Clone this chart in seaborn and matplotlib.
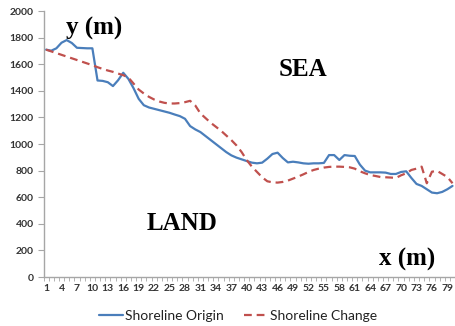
import numpy as np
import pandas as pd
import matplotlib
matplotlib.use("Agg")
import matplotlib.pyplot as plt
import seaborn as sns

# ---- data ----
x_index = list(range(1, 81))
shoreline_origin = [
    1710, 1702, 1720, 1762, 1782, 1760, 1724, 1722, 1720, 1720,
    1478, 1475, 1465, 1436, 1480, 1536, 1490, 1420, 1340, 1292,
    1275, 1265, 1255, 1245, 1235, 1222, 1210, 1190, 1135, 1110,
    1090, 1060, 1030, 1000, 970, 940, 915, 898, 885, 872,
    860, 855, 860, 890, 925, 935, 895, 862, 867, 862,
    855, 852, 855, 855, 858, 917, 917, 880, 917, 912,
    910, 845, 800, 787, 787, 787, 785, 775, 775, 790,
    795, 745, 700, 685, 660, 635, 630, 640, 660, 685,
]
shoreline_change = [
    1710, 1697, 1684, 1671, 1658, 1645, 1632, 1619, 1606, 1593,
    1578, 1565, 1553, 1543, 1530, 1518, 1500, 1455, 1410, 1380,
    1355, 1335, 1320, 1310, 1305, 1305, 1308, 1315, 1325, 1290,
    1230, 1195, 1160, 1130, 1100, 1065, 1030, 990, 940, 880,
    830, 790, 750, 720, 712, 710, 715, 725, 740, 755,
    772, 790, 805, 815, 823, 828, 830, 830, 828, 825,
    815, 795, 780, 767, 760, 752, 750, 748, 745, 765,
    780, 805, 815, 830, 705, 792, 798, 775, 752, 705,
]
series_names = ["Shoreline Origin", "Shoreline Change"]
y_ticks = [0, 200, 400, 600, 800, 1000, 1200, 1400, 1600, 1800, 2000]
x_tick_labels = list(range(1, 81, 3))

df = pd.DataFrame({
    "x": x_index * 2,
    "y": shoreline_origin + shoreline_change,
    "series": [series_names[0]] * len(x_index) + [series_names[1]] * len(x_index),
})

sns.set_theme(style="white")
plt.rcParams["font.family"] = ["Lato", "DejaVu Sans"]

fig = plt.figure(figsize=(4.56, 3.26), dpi=100)
ax = fig.add_axes([0.0954, 0.1503, 0.9026, 0.8157])

blue = "#4A7EBB"
red = "#C0504D"

sns.lineplot(data=df[df.series == series_names[0]], x="x", y="y", ax=ax,
             color=blue, linewidth=1.6, label=series_names[0])
sns.lineplot(data=df[df.series == series_names[1]], x="x", y="y", ax=ax,
             color=red, linewidth=1.6, linestyle="--", label=series_names[1])
ax.lines[1].set_dashes([3.5, 2.2])

ax.set_xlim(0.5, 80.5)
ax.set_ylim(0, 2000)
ax.set_yticks(y_ticks)
ax.set_yticklabels([str(v) for v in y_ticks])
ax.set_xticks(x_tick_labels)
ax.set_xticklabels([str(v) for v in x_tick_labels])
ax.set_xticks(np.arange(0.5, 81, 1), minor=True)
ax.set_xlabel("")
ax.set_ylabel("")

grey = "#A6A6A6"
for s in ["top", "right"]:
    ax.spines[s].set_visible(False)
for s in ["left", "bottom"]:
    ax.spines[s].set_color(grey)
    ax.spines[s].set_linewidth(1.0)

ax.tick_params(axis="y", which="major", direction="out", length=4, width=0.8,
               color=grey, left=True, labelsize=7.5, labelcolor="#333333", pad=3)
ax.tick_params(axis="x", which="major", length=0, labelsize=7.5,
               labelcolor="#333333", pad=5)
ax.tick_params(axis="x", which="minor", direction="out", length=3, width=0.6,
               color=grey, bottom=True)
for lab in ax.get_xticklabels() + ax.get_yticklabels():
    lab.set_fontweight("bold")

serif = ["Liberation Serif", "DejaVu Serif"]

def ptext(px, py, s):
    fig.text(px / 456, 1 - py / 326, s, ha="center", va="center",
             fontsize=18, fontweight="bold", family=serif, color="black")

ptext(94, 28, "y (m)")
ptext(303, 69, "SEA")
ptext(182, 224, "LAND")
ptext(407, 259, "x (m)")

ax.get_legend().remove()
handles = ax.lines[:2]
fig.legend(handles, series_names, loc="center", bbox_to_anchor=(238 / 456, 1 - 316 / 326),
           ncol=2, frameon=False, fontsize=10, handlelength=1.7, columnspacing=1.4,
           handletextpad=0.2, labelcolor="#222222")

fig.savefig("out.png", dpi=100)
